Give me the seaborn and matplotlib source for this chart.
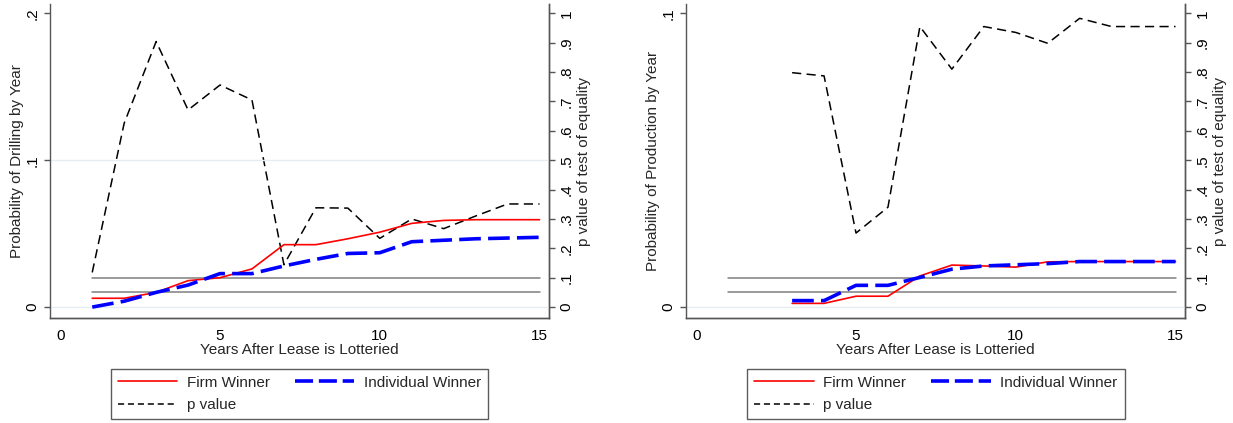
import numpy as np
import pandas as pd
import seaborn as sns
import matplotlib.pyplot as plt

# Left panel: drilling
years_drill = list(range(1, 16))
firm_drill = [0.006, 0.006, 0.010, 0.018, 0.020, 0.026, 0.0425, 0.0425, 0.0465, 0.051, 0.057, 0.059, 0.0595, 0.0595, 0.0595]
indiv_drill = [0.0, 0.004, 0.010, 0.015, 0.0228, 0.0228, 0.028, 0.0325, 0.0365, 0.037, 0.0445, 0.0455, 0.0465, 0.047, 0.0475]
pval_drill = [0.118, 0.626, 0.904, 0.671, 0.756, 0.705, 0.144, 0.338, 0.337, 0.234, 0.300, 0.267, 0.310, 0.351, 0.351]

# Right panel: production
years_prod = list(range(3, 16))
firm_prod = [0.00126, 0.00126, 0.0037, 0.0037, 0.0106, 0.0143, 0.014, 0.0136, 0.0154, 0.0155, 0.0155, 0.0155, 0.0155]
indiv_prod = [0.0022, 0.0022, 0.0074, 0.0074, 0.0101, 0.0129, 0.014, 0.0144, 0.0148, 0.0155, 0.0155, 0.0155, 0.0155]
pval_prod = [0.798, 0.787, 0.252, 0.340, 0.955, 0.810, 0.955, 0.935, 0.898, 0.983, 0.955, 0.955, 0.955]

ref_years = [1, 15]
ref_levels = [0.05, 0.1]

x_ticks = [0, 5, 10, 15]
x_labels = ["0", "5", "10", "15"]
p_ticks = [0, .1, .2, .3, .4, .5, .6, .7, .8, .9, 1]
p_labels = ["0", ".1", ".2", ".3", ".4", ".5", ".6", ".7", ".8", ".9", "1"]

sns.set_style("white")
plt.rcParams['font.family'] = ['Liberation Sans', 'DejaVu Sans']
plt.rcParams['font.size'] = 11

AX_COL = "#555555"
GRID_COL = "#e4edf0"

fig = plt.figure(figsize=(12.33, 4.23), dpi=100)


def style_axis(ax):
    ax.spines["top"].set_visible(False)
    for s in ["left", "right", "bottom"]:
        ax.spines[s].set_color(AX_COL)
        ax.spines[s].set_linewidth(1.0)
    ax.tick_params(colors="black", length=4, width=1, direction="out")
    ax.tick_params(axis="both", color=AX_COL)


def panel(left, years, firm, indiv, pval, ymax, yticks, ylabels, grid, ylabel, legend_x):
    ax = fig.add_axes([left, 0.248, 0.405, 0.742])
    df = pd.DataFrame({"year": years, "firm": firm, "indiv": indiv, "p": pval})

    for g in grid:
        ax.axhline(g, color=GRID_COL, lw=1.0, zorder=0)

    sns.lineplot(data=df, x="year", y="firm", ax=ax, color="red", lw=1.2, zorder=3)
    sns.lineplot(data=df, x="year", y="indiv", ax=ax, color="blue", lw=2.6,
                 linestyle=(0, (6, 2)), zorder=4)
    ax.set_xlim(-0.32, 15.31)
    ax.set_ylim(-0.0375 * ymax, 1.031 * ymax)
    ax.set_xticks(x_ticks)
    ax.set_xticklabels(x_labels)
    ax.set_yticks(yticks)
    ax.set_yticklabels(ylabels, rotation=90, va="center")
    ax.set_xlabel("Years After Lease is Lotteried", labelpad=0)
    ax.set_ylabel(ylabel, labelpad=1)
    style_axis(ax)

    ax2 = ax.twinx()
    for lev in ref_levels:
        ax2.plot(ref_years, [lev, lev], color="#7f7f7f", lw=1.1, zorder=2)
    sns.lineplot(data=df, x="year", y="p", ax=ax2, color="black", lw=1.1,
                 linestyle=(0, (6, 3.5)), zorder=3)
    ax2.set_ylim(-0.0375, 1.031)
    ax2.set_yticks(p_ticks)
    ax2.set_yticklabels(p_labels, rotation=90, va="center")
    ax2.set_ylabel("p value of test of equality", labelpad=2)
    style_axis(ax2)
    ax2.spines["left"].set_visible(False)
    ax.patch.set_visible(False)
    ax.set_zorder(ax2.get_zorder() + 1)

    handles = [
        plt.Line2D([], [], color="red", lw=1.2),
        plt.Line2D([], [], color="black", lw=1.1, linestyle=(0, (4, 2.5))),
        plt.Line2D([], [], color="blue", lw=2.6, linestyle=(0, (5, 1.6))),
    ]
    labels = ["Firm Winner", "p value", "Individual Winner"]
    leg = ax.legend(handles, labels, ncol=2, loc="upper center",
                    bbox_to_anchor=(legend_x, 0.128), bbox_transform=fig.transFigure,
                    borderaxespad=0,
                    frameon=True, fancybox=False, edgecolor="#333333",
                    handlelength=3.9, columnspacing=1.6, handletextpad=0.65,
                    borderpad=0.45, labelspacing=0.55, fontsize=11)
    leg.get_frame().set_linewidth(1.0)
    return ax


panel(0.0406, years_drill, firm_drill, indiv_drill, pval_drill, 0.2,
      [0, 0.1, 0.2], ["0", ".1", ".2"], [0, 0.1], "Probability of Drilling by Year", 0.243)
panel(0.5564, years_prod, firm_prod, indiv_prod, pval_prod, 0.1,
      [0, 0.1], ["0", ".1"], [0], "Probability of Production by Year", 0.759)

fig.savefig("out.png", dpi=100)
